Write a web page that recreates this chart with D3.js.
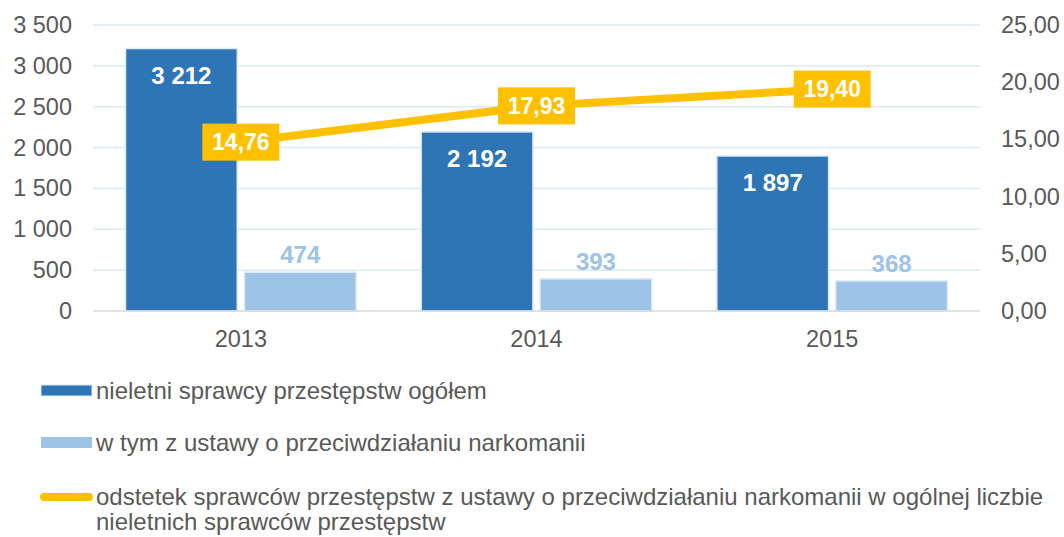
<!DOCTYPE html>
<html><head><meta charset="utf-8">
<script src="https://cdn.jsdelivr.net/npm/d3@7"></script>
<style>body{margin:0;background:#fff;}svg{display:block;font-family:"Liberation Sans",Arial,sans-serif;}</style>
</head><body>
<svg id="c" width="1064" height="537"></svg>
<script>
const categories = ["2013", "2014", "2015"];
const totalOffenders = [3212, 2192, 1897];
const drugOffenders = [474, 393, 368];
const sharePercent = [14.76, 17.93, 19.40];
const leftTicks = [0, 500, 1000, 1500, 2000, 2500, 3000, 3500];
const rightTicks = [0, 5, 10, 15, 20, 25];
const seriesNames = [
  "nieletni sprawcy przestępstw ogółem",
  "w tym z ustawy o przeciwdziałaniu narkomanii",
  "odstetek sprawców przestępstw z ustawy o przeciwdziałaniu narkomanii w ogólnej liczbie",
  "nieletnich sprawców przestępstw"
];

const svg = d3.select("#c");
const plot = {left: 93, right: 980, top: 25, bottom: 311};
const x = d3.scaleBand().domain(categories).range([plot.left, plot.right]).paddingInner(0.22).paddingOuter(0.11);
const xInner = d3.scaleBand().domain([0, 1]).range([0, x.bandwidth()]).paddingInner(0.06);
const yL = d3.scaleLinear().domain([0, 3500]).range([plot.bottom, plot.top]);
const yR = d3.scaleLinear().domain([0, 25]).range([plot.bottom, plot.top]);
const fmtInt = v => d3.format(",")(v).replace(/,/g, " ");
const fmtDec = v => d3.format(".2f")(v).replace(".", ",");
const axisFont = 23.5;

// gridlines
svg.append("g").selectAll("line").data(leftTicks.filter(d => d > 0)).join("line")
  .attr("x1", plot.left).attr("x2", plot.right)
  .attr("y1", d => yL(d)).attr("y2", d => yL(d))
  .attr("stroke", "#dde9f6").attr("stroke-width", 1.5);

// left axis
const gl = svg.append("g").attr("transform", `translate(${plot.left - 21},0)`)
  .call(d3.axisLeft(yL).tickValues(leftTicks).tickFormat(fmtInt).tickSize(0).tickPadding(0));
gl.select(".domain").remove();
gl.selectAll("text").attr("font-size", axisFont).attr("fill", "#595959").attr("font-family", "Liberation Sans, Arial");

// right axis
const gr = svg.append("g").attr("transform", `translate(${plot.right + 21},0)`)
  .call(d3.axisRight(yR).tickValues(rightTicks).tickFormat(fmtDec).tickSize(0).tickPadding(0));
gr.select(".domain").remove();
gr.selectAll("text").attr("font-size", axisFont).attr("fill", "#595959").attr("font-family", "Liberation Sans, Arial");

// bars
const barData = categories.map((c, i) => [
  {c, k: 0, v: totalOffenders[i]},
  {c, k: 1, v: drugOffenders[i]}
]).flat();
const colors = ["#2E75B6", "#9DC3E6"];
svg.append("g").selectAll("rect").data(barData).join("rect")
  .attr("x", d => x(d.c) + xInner(d.k))
  .attr("width", xInner.bandwidth())
  .attr("y", d => yL(d.v))
  .attr("height", d => plot.bottom - yL(d.v))
  .attr("fill", d => colors[d.k])
  .attr("stroke", "#deeaf6").attr("stroke-width", 1.5);

// baseline
svg.append("line").attr("x1", plot.left).attr("x2", plot.right)
  .attr("y1", plot.bottom).attr("y2", plot.bottom).attr("stroke", "#d9d9d9").attr("stroke-width", 1.5);

// x axis labels
const gx = svg.append("g").attr("transform", `translate(0,${plot.bottom + 19})`)
  .call(d3.axisBottom(x).tickSize(0).tickPadding(0));
gx.select(".domain").remove();
gx.selectAll("text").attr("font-size", axisFont).attr("fill", "#595959").attr("font-family", "Liberation Sans, Arial").attr("dy", "0.71em");

// bar labels
svg.append("g").selectAll("text").data(barData).join("text")
  .attr("x", d => x(d.c) + xInner(d.k) + xInner.bandwidth() / 2)
  .attr("y", d => d.k === 0 ? yL(d.v) + 35 : yL(d.v) - 9)
  .attr("text-anchor", "middle")
  .attr("font-size", 24).attr("font-weight", "bold")
  .attr("fill", d => d.k === 0 ? "#ffffff" : "#9DC3E6")
  .text(d => fmtInt(d.v));

// line
const cx = c => x(c) + x.bandwidth() / 2;
const lineData = categories.map((c, i) => ({c, v: sharePercent[i]}));
svg.append("path").datum(lineData)
  .attr("d", d3.line().x(d => cx(d.c)).y(d => yR(d.v)))
  .attr("fill", "none").attr("stroke", "#FFC000").attr("stroke-width", 8);

// line labels
const lg = svg.append("g").selectAll("g").data(lineData).join("g")
  .attr("transform", d => `translate(${cx(d.c)},${yR(d.v)})`);
lg.append("rect").attr("x", -38.5).attr("y", -18.5).attr("width", 77).attr("height", 37).attr("fill", "#FFC000");
lg.append("text").attr("text-anchor", "middle").attr("dy", "0.36em")
  .attr("font-size", 23).attr("font-weight", "bold").attr("fill", "#fff")
  .text(d => fmtDec(d.v));

// legend
const leg = svg.append("g");
leg.append("rect").attr("x", 41).attr("y", 385).attr("width", 51).attr("height", 11).attr("fill", colors[0]).attr("stroke", "#deeaf6");
leg.append("rect").attr("x", 41).attr("y", 437).attr("width", 51).attr("height", 11).attr("fill", colors[1]);
leg.append("line").attr("x1", 44).attr("x2", 89).attr("y1", 497).attr("y2", 497)
  .attr("stroke", "#FFC000").attr("stroke-width", 8).attr("stroke-linecap", "round");
const legText = [[seriesNames[0], 391], [seriesNames[1], 443], [seriesNames[2], 497], [seriesNames[3], 522]];
leg.selectAll("text").data(legText).join("text")
  .attr("x", 96).attr("y", d => d[1]).attr("dy", "0.35em")
  .attr("font-size", 24).attr("fill", "#595959")
  .text(d => d[0]);
</script>
</body></html>
